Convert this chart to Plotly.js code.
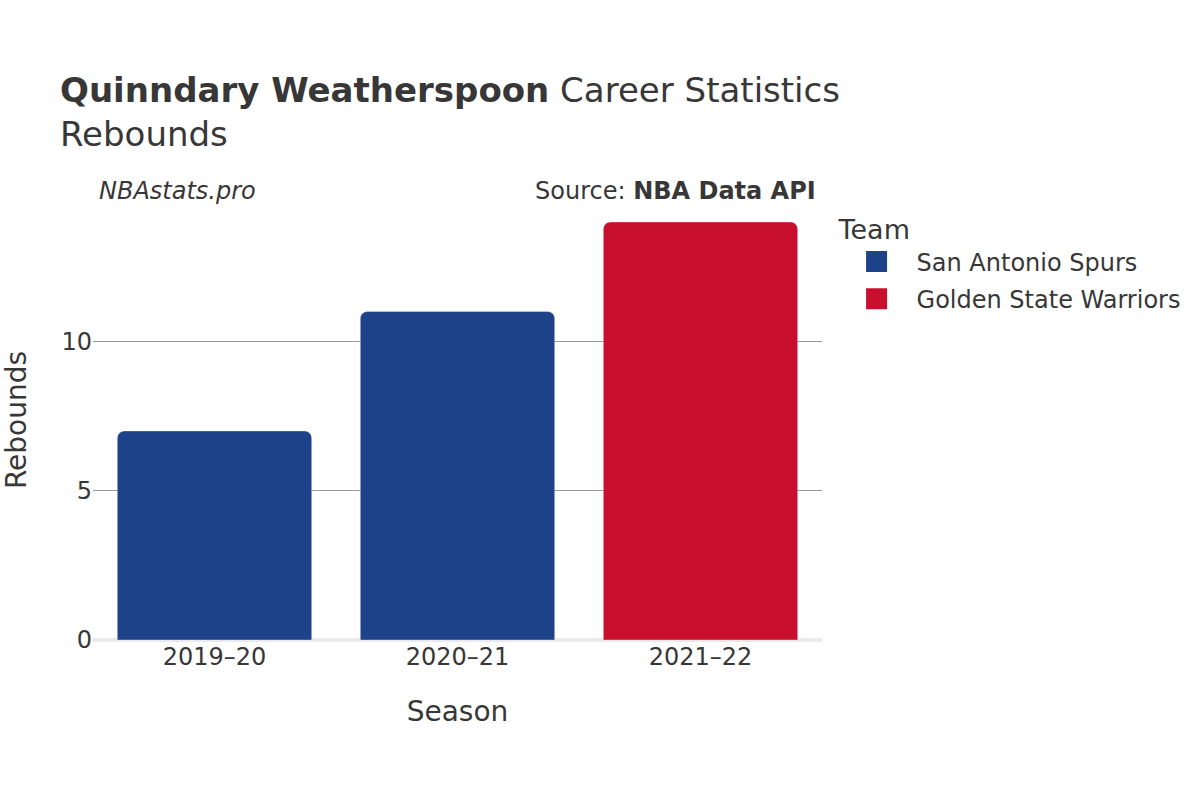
<!DOCTYPE html>
<html>
<head>
<meta charset="utf-8">
<script src="https://cdn.plot.ly/plotly-3.0.1.min.js"></script>
<style>
  html, body { margin: 0; padding: 0; background: #fff; }
  #chart { width: 1200px; height: 800px; }
</style>
</head>
<body>
<div id="chart"></div>
<script>
// Datos
const spursSeasons = ['2019–20', '2020–21'];
const spursRebounds = [7, 11];
const warriorsSeasons = ['2021–22'];
const warriorsRebounds = [14];
const seasonOrder = ['2019–20', '2020–21', '2021–22'];
const teams = ['San Antonio Spurs', 'Golden State Warriors'];

const spursColor = '#1d428a';
const warriorsColor = '#c8102e';
const textColor = '#373737';
const fontFamily = '"DejaVu Sans", Verdana, sans-serif';

function barTrace(name, seasons, values, color) {
    return {
        x: seasons,
        y: values,
        type: 'bar',
        name: name,
        legendgroup: name,
        showlegend: false,
        marker: {
            color: color,
            cornerradius: 7,
            line: { color: 'rgba(255,255,255,0.35)', width: 1 }
        },
        hoverinfo: 'x+y+name'
    };
}

// Entradas de leyenda con símbolo más grande (sin marcas en el gráfico)
function legendTrace(name, color) {
    return {
        x: [null],
        y: [null],
        type: 'scatter',
        mode: 'markers',
        name: name,
        legendgroup: name,
        showlegend: true,
        marker: {
            symbol: 'square',
            size: 16,
            color: color,
            line: { color: color, width: 5 }
        },
        hoverinfo: 'skip'
    };
}

const traces = [
    barTrace(teams[0], spursSeasons, spursRebounds, spursColor),
    barTrace(teams[1], warriorsSeasons, warriorsRebounds, warriorsColor),
    legendTrace(teams[0], spursColor),
    legendTrace(teams[1], warriorsColor)
];

const layout = {
    width: 1200,
    height: 800,
    paper_bgcolor: '#fff',
    plot_bgcolor: '#fff',
    font: { family: fontFamily, color: textColor, size: 24 },
    title: {
        text: '<b>Quinndary Weatherspoon</b> Career Statistics<br>Rebounds',
        font: { family: fontFamily, size: 34, color: textColor },
        x: 0.05,
        xanchor: 'left',
        xref: 'container',
        y: 0.873,
        yanchor: 'middle',
        yref: 'container'
    },
    margin: { l: 93, r: 378, t: 200, b: 160 },
    barmode: 'relative',
    bargap: 0.2,
    xaxis: {
        type: 'category',
        categoryorder: 'array',
        categoryarray: seasonOrder,
        title: { text: 'Season', font: { size: 28 }, standoff: 31 },
        tickfont: { size: 24 },
        showgrid: false,
        showline: false,
        ticks: ''
    },
    yaxis: {
        title: { text: 'Rebounds', font: { size: 28 }, standoff: 27 },
        tickfont: { size: 24 },
        tickvals: [0, 5, 10],
        showgrid: true,
        gridcolor: '#999',
        gridwidth: 1,
        zeroline: true,
        zerolinecolor: '#eaeaea',
        zerolinewidth: 4,
        showline: false,
        ticks: ''
    },
    legend: {
        title: { text: 'Team', font: { size: 27 } },
        font: { size: 24 },
        x: 1.02,
        xanchor: 'left',
        y: 0.99,
        yanchor: 'top',
        itemwidth: 70,
        tracegroupgap: 3
    },
    annotations: [
        {
            text: '<i>NBAstats.pro</i>',
            xref: 'paper', yref: 'paper',
            x: 0.005, y: 1.02,
            xanchor: 'left', yanchor: 'middle',
            showarrow: false,
            font: { size: 24, color: textColor }
        },
        {
            text: 'Source: <b>NBA Data API</b>',
            xref: 'paper', yref: 'paper',
            x: 0.995, y: 1.02,
            xanchor: 'right', yanchor: 'middle',
            showarrow: false,
            font: { size: 24, color: textColor }
        }
    ],
    showlegend: true
};

Plotly.newPlot('chart', traces, layout, { displayModeBar: false, responsive: false });
</script>
</body>
</html>
